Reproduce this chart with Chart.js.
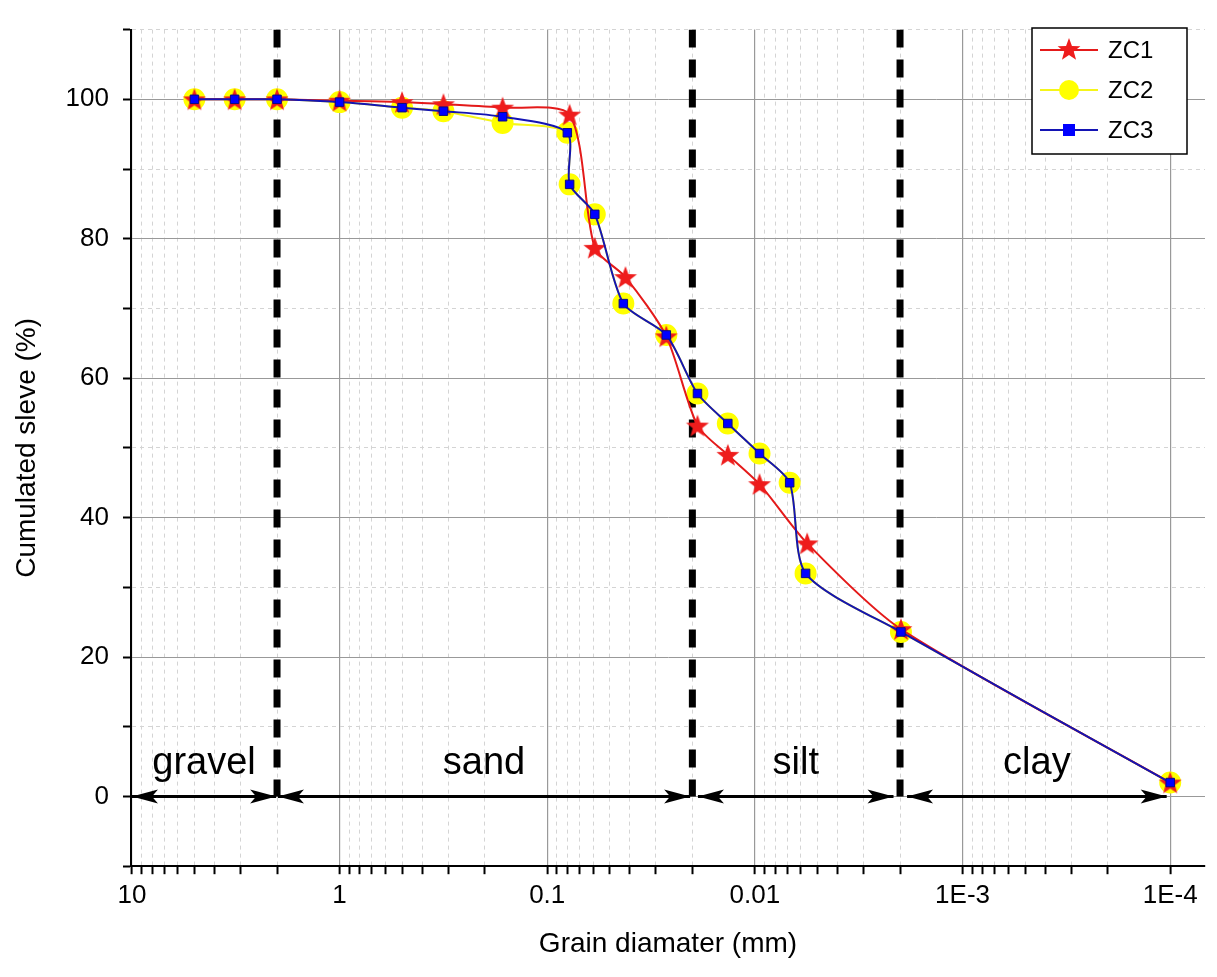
<!DOCTYPE html>
<html>
<head>
<meta charset="utf-8">
<script src="https://cdn.jsdelivr.net/npm/chart.js@4.4.1/dist/chart.umd.min.js"></script>
<style>
  html, body { margin: 0; padding: 0; background: #fff; }
  #wrap { width: 1217px; height: 977px; }
</style>
</head>
<body>
<div id="wrap"><canvas id="grafico"></canvas></div>
<script>
// diámetros (mm) y porcentajes acumulados
const diametros = [5, 3.2, 2, 1, 0.5, 0.316, 0.164, 0.08, 0.078, 0.059, 0.043, 0.0267, 0.0189, 0.0135, 0.0095, 0.0068, 0.0057, 0.00198, 0.0001];
const zc1 = [100, 100, 100, 99.8, 99.6, 99.3, 98.8, 97.8, null, 78.7, 74.5, 66, 53.2, 49, 44.8, null, 36.3, 24, 2];
const zc2 = [100, 100, 100, 99.6, 98.8, 98.3, 96.6, 95.2, 87.8, 83.5, 70.7, 66.2, 57.8, 53.5, 49.2, 45, 32, 23.6, 2];
const zc3 = [100, 100, 100, 99.6, 98.8, 98.3, 97.5, 95.2, 87.8, 83.5, 70.7, 66.2, 57.8, 53.5, 49.2, 45, 32, 23.6, 2];
const zc1x = [5, 3.2, 2, 1, 0.5, 0.316, 0.164, 0.078, null, 0.059, 0.042, 0.0267, 0.0189, 0.0135, 0.0095, null, 0.0056, 0.00198, 0.0001];

// límites de clases granulométricas
const limites = [2, 0.02, 0.002];
const clases = ['gravel', 'sand', 'silt', 'clay'];
const flechas = [[10, 2.02], [1.98, 0.0205], [0.0188, 0.00215], [0.00185, 0.000104]];
const etiquetasX = { 10: '10', 1: '1', 0.1: '0.1', 0.01: '0.01', 0.001: '1E-3', 0.0001: '1E-4' };

const puntos = (xs, ys) => xs.map((x, i) => ({ x: x, y: ys[i] })).filter(p => p.x !== null && p.y !== null);
const fuente = '"Liberation Sans", Arial, sans-serif';

// estrella rellena para ZC1
const estrella = document.createElement('canvas');
estrella.width = 26; estrella.height = 26;
(function () {
    const c = estrella.getContext('2d');
    c.beginPath();
    for (let i = 0; i < 10; i++) {
        const r = i % 2 === 0 ? 12 : 5;
        const a = -Math.PI / 2 + i * Math.PI / 5;
        c.lineTo(13 + r * Math.cos(a), 14 + r * Math.sin(a));
    }
    c.closePath();
    c.fillStyle = '#ee1c1c';
    c.fill();
})();

const datasets = [
    {
        label: 'ZC1', data: puntos(zc1x, zc1), borderColor: '#e41a1a', borderWidth: 2,
        pointStyle: estrella, tension: 0.25, order: 1
    },
    {
        label: 'ZC2', data: puntos(diametros, zc2), borderColor: '#f5f51a', borderWidth: 2,
        pointStyle: 'circle', pointRadius: 10, pointBackgroundColor: '#ffff00', pointBorderColor: '#ffff00',
        tension: 0.25, order: 3
    },
    {
        label: 'ZC3', data: puntos(diametros, zc3), borderColor: '#1414b4', borderWidth: 2,
        pointStyle: 'rect', pointRadius: 6, pointBackgroundColor: '#0000ff', pointBorderColor: '#0a0a80', pointBorderWidth: 1,
        tension: 0.25, order: 0
    }
];
limites.forEach(l => datasets.push({
    label: 'lim', data: [{ x: l, y: 110 }, { x: l, y: 0 }], borderColor: '#000', borderWidth: 7,
    borderDash: [18, 12], pointRadius: 0, order: 5
}));

// flechas, nombres de clases y leyenda
const pluginClases = {
    id: 'clases',
    afterDatasetsDraw(chart) {
        const ctx = chart.ctx, x = chart.scales.x, y = chart.scales.y;
        const y0 = y.getPixelForValue(0);
        ctx.save();
        ctx.strokeStyle = '#000'; ctx.fillStyle = '#000'; ctx.lineWidth = 3;
        flechas.forEach(([a, b], i) => {
            const xa = Math.max(x.getPixelForValue(a), chart.chartArea.left + 1), xb = x.getPixelForValue(b);
            ctx.beginPath(); ctx.moveTo(xa, y0); ctx.lineTo(xb, y0); ctx.stroke();
            [[xa, 1], [xb, -1]].forEach(([px, d]) => {
                ctx.beginPath();
                ctx.moveTo(px, y0);
                ctx.lineTo(px + d * 26, y0 - 7);
                ctx.lineTo(px + d * 20, y0);
                ctx.lineTo(px + d * 26, y0 + 7);
                ctx.closePath(); ctx.fill();
            });
            ctx.font = '38px ' + fuente;
            ctx.textAlign = 'center'; ctx.textBaseline = 'alphabetic';
            ctx.fillText(clases[i], (xa + xb) / 2, y0 - 22);
        });
        const lx = 1032, ly = 28, lw = 155, lh = 126;
        ctx.fillStyle = '#fff'; ctx.fillRect(lx, ly, lw, lh);
        ctx.lineWidth = 1.5; ctx.strokeStyle = '#000'; ctx.strokeRect(lx, ly, lw, lh);
        ctx.font = '24px ' + fuente;
        ctx.textAlign = 'left'; ctx.textBaseline = 'middle';
        datasets.slice(0, 3).forEach((d, i) => {
            const cy = ly + 22 + i * 40;
            ctx.strokeStyle = d.borderColor; ctx.lineWidth = 2;
            ctx.beginPath(); ctx.moveTo(lx + 8, cy); ctx.lineTo(lx + 66, cy); ctx.stroke();
            if (i === 0) ctx.drawImage(estrella, lx + 24, cy - 14);
            if (i === 1) { ctx.fillStyle = '#ffff00'; ctx.beginPath(); ctx.arc(lx + 37, cy, 10, 0, 7); ctx.fill(); }
            if (i === 2) { ctx.fillStyle = '#0000ff'; ctx.fillRect(lx + 31, cy - 6, 12, 12); }
            ctx.fillStyle = '#000'; ctx.fillText(d.label, lx + 76, cy + 1);
        });
        ctx.restore();
    }
};

const esMayorX = v => Math.abs(Math.log10(v) - Math.round(Math.log10(v))) < 1e-6;

new Chart(document.getElementById('grafico'), {
    type: 'line',
    data: { datasets: datasets },
    plugins: [pluginClases],
    options: {
        responsive: true, maintainAspectRatio: false, animation: false,
        layout: { padding: { left: 6, right: 11, top: 5, bottom: 12 } },
        plugins: { legend: { display: false }, tooltip: { enabled: false } },
        scales: {
            x: {
                type: 'logarithmic', reverse: true, min: 0.000068, max: 10.1,
                afterBuildTicks(ax) {
                    const t = [];
                    for (let e = -4; e <= 1; e++) for (let m = 1; m <= 9; m++) {
                        const v = parseFloat((m * Math.pow(10, e)).toPrecision(3));
                        if (v >= ax.min && v <= ax.max) t.push({ value: v });
                    }
                    ax.ticks = t;
                },
                ticks: {
                    autoSkip: false, maxRotation: 0, color: '#000', padding: 6,
                    font: { size: 26, family: fuente },
                    callback: v => { for (const k in etiquetasX) if (Math.abs(parseFloat(k) - v) / v < 1e-6) return etiquetasX[k]; return ''; }
                },
                grid: {
                    color: c => c.tick && esMayorX(c.tick.value) ? '#999' : '#d4d4d4',
                    lineWidth: c => c.tick && esMayorX(c.tick.value) ? 1.2 : 1,
                    drawTicks: true, tickLength: 8, tickColor: '#000', tickWidth: 2
                },
                border: { color: '#000', width: 2, dash: c => c.tick && esMayorX(c.tick.value) ? [] : [4, 4] },
                title: { display: true, text: 'Grain diamater (mm)', color: '#000', font: { size: 28, family: fuente }, padding: { top: 10 } }
            },
            y: {
                min: -10, max: 110,
                afterBuildTicks(ax) {
                    const t = [];
                    for (let v = -10; v <= 110; v += 10) t.push({ value: v });
                    ax.ticks = t;
                },
                ticks: {
                    autoSkip: false, color: '#000', padding: 14,
                    font: { size: 26, family: fuente },
                    callback: v => (v % 20 === 0 && v >= 0 && v <= 100) ? v : ''
                },
                grid: {
                    color: c => c.tick && c.tick.value % 20 === 0 ? '#999' : '#d4d4d4',
                    drawTicks: true, tickLength: 8, tickColor: '#000', tickWidth: 2
                },
                border: { color: '#000', width: 2, dash: c => c.tick && c.tick.value % 20 === 0 ? [] : [4, 4] },
                title: { display: true, text: 'Cumulated sleve (%)', color: '#000', font: { size: 28, family: fuente }, padding: { bottom: 8 } }
            }
        }
    }
});
</script>
</body>
</html>
